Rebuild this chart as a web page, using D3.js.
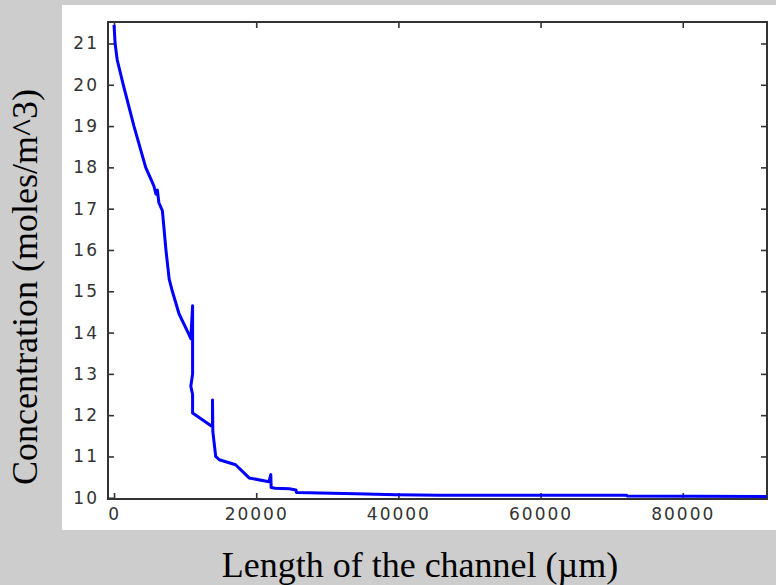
<!DOCTYPE html>
<html>
<head>
<meta charset="utf-8">
<script src="https://d3js.org/d3.v7.min.js"></script>
<style>
  body { margin: 0; background: #cdcdcd; }
  svg { display: block; }
</style>
</head>
<body>
<div id="chart"></div>
<script>
    // values
    let lengthUm = [0, 150, 450, 1300, 2800, 4450, 5600, 5900, 6100, 6300, 6550, 6800, 7300, 7750, 8200, 9150, 10550,
        10800, 11050, 11050, 10800, 11050, 11050, 13850, 13850, 13900, 14300, 14800, 17100, 19000, 21800, 22050, 22100,
        22650, 24650, 25600, 25650, 34000, 39700, 45800, 72100, 72200, 91800];
    let concentration = [21.45, 21.0, 20.6, 20.0, 19.0, 18.0, 17.55, 17.35, 17.45, 17.15, 17.05, 16.95, 16.0, 15.3, 15.0, 14.45, 13.95,
        13.85, 14.65, 13.0, 12.7, 12.5, 12.05, 11.72, 12.37, 11.6, 11.0, 10.92, 10.8, 10.48, 10.39, 10.56, 10.25,
        10.23, 10.22, 10.19, 10.13, 10.1, 10.07, 10.06, 10.06, 10.04, 10.03];
    let xTicks = [0, 20000, 40000, 60000, 80000];
    let yTicks = [10, 11, 12, 13, 14, 15, 16, 17, 18, 19, 20, 21];

    let W = 776, H = 585;
    let plot = {left: 108, top: 22, right: 767, bottom: 499};
    let width = plot.right - plot.left, height = plot.bottom - plot.top;

    var svg = d3.select("#chart")
        .append("svg")
            .attr("width", W)
            .attr("height", H);

    // grey backdrop + white panel
    svg.append("rect").attr("width", W).attr("height", H).style("fill", "#cdcdcd");
    svg.append("rect")
        .attr("x", 62).attr("y", 5)
        .attr("width", W - 62).attr("height", 525)
        .style("fill", "white");

    var g = svg.append("g")
        .attr("transform", "translate(" + plot.left + "," + plot.top + ")");

    var xScale = d3.scaleLinear().domain([-850, 91850]).range([0, width]),
        yScale = d3.scaleLinear().domain([9.97, 21.52]).range([height, 0]);

    //bottom axis with labels
    g.append("g")
        .attr("transform", "translate(0," + height + ")")
        .call(d3.axisBottom(xScale).tickValues(xTicks).tickFormat(d3.format("d")).tickSize(-6).tickPadding(9))
        .call(a => a.select(".domain").remove());

    //left axis with labels
    g.append("g")
        .call(d3.axisLeft(yScale).tickValues(yTicks).tickFormat(d3.format("d")).tickSize(-6).tickPadding(9))
        .call(a => a.select(".domain").remove());

    //top + right axes: ticks only
    g.append("g")
        .call(d3.axisTop(xScale).tickValues(xTicks).tickFormat("").tickSize(-6))
        .call(a => a.select(".domain").remove());
    g.append("g")
        .attr("transform", "translate(" + width + ",0)")
        .call(d3.axisRight(yScale).tickValues(yTicks).tickFormat("").tickSize(-6))
        .call(a => a.select(".domain").remove());

    g.selectAll(".tick line").attr("stroke", "#333").attr("stroke-width", 1.6);
    g.selectAll(".tick text")
        .style("font-family", "DejaVu Sans")
        .style("font-size", "17px")
        .style("letter-spacing", "2px")
        .attr("fill", "#333");

    // frame
    g.append("rect")
        .attr("width", width).attr("height", height)
        .style("fill", "none")
        .style("stroke", "#333")
        .style("stroke-width", 2);

    var line = d3.line()
        .x(function(d, i) { return xScale(lengthUm[i]); })
        .y(function(d, i) { return yScale(concentration[i]); });

    g.append("path")
        .datum(lengthUm)
        .attr("d", line)
        .style("fill", "none")
        .style("stroke", "#0000ff")
        .style("stroke-width", 3)
        .style("stroke-linejoin", "round");

    //x axis label
    svg.append("text")
        .attr("text-anchor", "middle")
        .attr("x", 420)
        .attr("y", 577)
        .style("font-family", "Liberation Serif")
        .style("font-size", "36px")
        .text("Length of the channel (µm)");

    //y axis label
    svg.append("text")
        .attr("text-anchor", "middle")
        .attr("transform", "translate(37,287) rotate(-90)")
        .style("font-family", "Liberation Serif")
        .style("font-size", "36px")
        .text("Concentration (moles/m^3)");
</script>
</body>
</html>
